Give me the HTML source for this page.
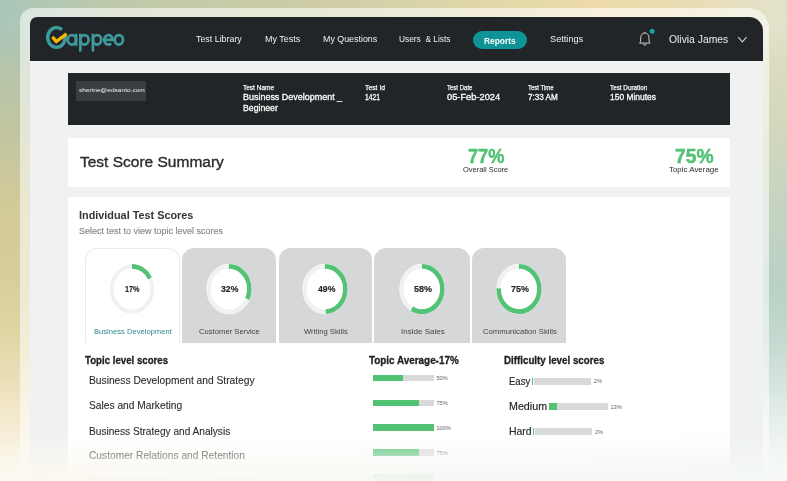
<!DOCTYPE html>
<html><head><meta charset="utf-8">
<style>
html,body{margin:0;padding:0;}
body{width:787px;height:481px;overflow:hidden;position:relative;font-family:"Liberation Sans",sans-serif;
background:#d6d2aa;}
.abs{position:absolute;}
.t{position:absolute;white-space:nowrap;line-height:1;transform-origin:0 0;}
#bgT{position:absolute;left:0;top:0;width:787px;height:60px;
background:linear-gradient(90deg,#a9c6b9 0px,#bec9aa 110px,#cccca6 300px,#d6d2a8 400px,#e2d8a9 500px,#eedcaa 600px,#e9ddb6 700px,#e2e2cc 787px);
-webkit-mask-image:linear-gradient(180deg,#000 0px,#000 20px,transparent 60px);mask-image:linear-gradient(180deg,#000 0px,#000 20px,transparent 60px);}
#bgL{position:absolute;left:0;top:0;width:40px;height:481px;
background:linear-gradient(180deg,#a9c5b8 0px,#aec5b2 30px,#b4c5ab 60px,#c1c5a0 130px,#d1ca99 200px,#d8cd9c 280px,#e0d4a4 330px,#ecdfb8 380px,#f5ecd4 430px,#fbf7ec 481px);}
#bgR{position:absolute;left:750px;top:0;width:37px;height:481px;
background:linear-gradient(180deg,#e4e3cc 0px,#dcdcc0 60px,#d4d8bc 120px,#c6d4c0 200px,#b9d1c6 290px,#c4d9cf 340px,#d4e3dc 380px,#e6efea 420px,#f2f6f3 455px,#f8faf8 481px);}
#frame{position:absolute;left:20px;top:8px;width:748.5px;height:520px;border-radius:13px 20px 0 0;background:rgba(255,255,255,0.56);}
#screen{position:absolute;left:30px;top:16.5px;width:733.2px;height:520px;border-radius:7px 14px 0 0;background:#f0f2f2;overflow:hidden;}
#nav{position:absolute;left:30px;top:16.5px;width:733.2px;height:44.5px;border-radius:7px 14px 0 0;background:#222527;}
#info{position:absolute;left:68px;top:73.3px;width:661.5px;height:51.5px;background:#222527;}
#email{position:absolute;left:75.9px;top:81px;width:70.5px;height:20.3px;background:#3a3d3f;}
#card1{position:absolute;left:67.6px;top:137.5px;width:662px;height:49.8px;background:#ffffff;}
#card2{position:absolute;left:68px;top:196.9px;width:661.6px;height:300px;background:#ffffff;}
.tab{position:absolute;top:248px;height:94.6px;border-radius:12px 12px 0 0;background:#d5d7d8;box-sizing:border-box;}
.tab.on{background:#fff;border:1px solid #e9eaea;border-bottom:none;}
.bar{position:absolute;background:#d9d9d9;}
.bar i{position:absolute;left:0;top:0;bottom:0;background:#52c275;}
#fade{position:absolute;left:0;top:0;width:787px;height:481px;
background:linear-gradient(90deg,#fbf8ef 0px,#faf9f5 250px,#f6f8f6 550px,#f4f7f5 787px);
-webkit-mask-image:linear-gradient(180deg, rgba(0,0,0,0) 0px, rgba(0,0,0,0) 432px, rgba(0,0,0,0.2) 443px, rgba(0,0,0,0.45) 453px, rgba(0,0,0,0.7) 463px, rgba(0,0,0,0.92) 474px, rgba(0,0,0,0.97) 481px);mask-image:linear-gradient(180deg, rgba(0,0,0,0) 0px, rgba(0,0,0,0) 432px, rgba(0,0,0,0.2) 443px, rgba(0,0,0,0.45) 453px, rgba(0,0,0,0.7) 463px, rgba(0,0,0,0.92) 474px, rgba(0,0,0,0.97) 481px);}
</style></head><body>
<div id="bgL"></div><div id="bgR"></div><div id="bgT"></div>
<div id="frame"></div>
<div id="screen"></div>
<div id="nav"></div>
<div id="info"></div>
<div id="email"></div>
<div id="card1"></div>
<div id="card2"></div>
<div class="tab on" style="left:85.1px;width:94.5px"></div><div class="tab" style="left:181.7px;width:94.7px"></div><div class="tab" style="left:278.5px;width:93.9px"></div><div class="tab" style="left:374.4px;width:95.3px"></div><div class="tab" style="left:471.7px;width:94.5px"></div>
<svg class="abs" style="left:105.35px;top:262.3px" width="54" height="54" viewBox="-27 -27 54 54">
<g transform="scale(1,1.1133)"><circle r="22.6" fill="#ffffff"/><circle r="20.3" fill="none" stroke="#f1f1f1" stroke-width="3.8"/>
<circle r="20.3" fill="none" stroke="#52c275" stroke-width="4.4" stroke-dasharray="21.68 999" transform="rotate(-90)"/></g></svg><svg class="abs" style="left:202.04999999999998px;top:262.3px" width="54" height="54" viewBox="-27 -27 54 54">
<g transform="scale(1,1.1133)"><circle r="22.6" fill="#ffffff"/><circle r="20.3" fill="none" stroke="#f1f1f1" stroke-width="3.8"/>
<circle r="20.3" fill="none" stroke="#52c275" stroke-width="4.4" stroke-dasharray="40.82 999" transform="rotate(-90)"/></g></svg><svg class="abs" style="left:298.45px;top:262.3px" width="54" height="54" viewBox="-27 -27 54 54">
<g transform="scale(1,1.1133)"><circle r="22.6" fill="#ffffff"/><circle r="20.3" fill="none" stroke="#f1f1f1" stroke-width="3.8"/>
<circle r="20.3" fill="none" stroke="#52c275" stroke-width="4.4" stroke-dasharray="62.50 999" transform="rotate(-90)"/></g></svg><svg class="abs" style="left:395.04999999999995px;top:262.3px" width="54" height="54" viewBox="-27 -27 54 54">
<g transform="scale(1,1.1133)"><circle r="22.6" fill="#ffffff"/><circle r="20.3" fill="none" stroke="#f1f1f1" stroke-width="3.8"/>
<circle r="20.3" fill="none" stroke="#52c275" stroke-width="4.4" stroke-dasharray="73.98 999" transform="rotate(-90)"/></g></svg><svg class="abs" style="left:491.95000000000005px;top:262.3px" width="54" height="54" viewBox="-27 -27 54 54">
<g transform="scale(1,1.1133)"><circle r="22.6" fill="#ffffff"/><circle r="20.3" fill="none" stroke="#f1f1f1" stroke-width="3.8"/>
<circle r="20.3" fill="none" stroke="#52c275" stroke-width="4.4" stroke-dasharray="95.66 999" transform="rotate(-90)"/></g></svg>
<!-- nav pill -->
<div class="abs" style="left:473.1px;top:30.6px;width:54.1px;height:18.5px;border-radius:9.25px;background:#0e9397"></div>
<!-- logo -->
<svg class="abs" style="left:40px;top:20px" width="90" height="36" viewBox="0 0 90 36">
 <path d="M25.16 16.03 A8.75 9.85 0 1 1 21.89 9.64" fill="none" stroke="#3d9a9c" stroke-width="3.5"/>
 <path d="M12.4 16.9 L16.3 21.6 L26.6 13.9" fill="none" stroke="#f5b800" stroke-width="3.3" stroke-linejoin="miter" stroke-linecap="butt"/>
 <g fill="none" stroke="#3d9a9c" stroke-width="2.7"><ellipse cx="31.9" cy="19.8" rx="4.15" ry="4.75"/><line x1="36.05" y1="13.7" x2="36.05" y2="25.9"/><line x1="40.3" y1="13.7" x2="40.3" y2="31.6"/><ellipse cx="44.449999999999996" cy="19.8" rx="4.15" ry="4.75"/><line x1="52.9" y1="13.7" x2="52.9" y2="31.6"/><ellipse cx="57.05" cy="19.8" rx="4.15" ry="4.75"/><path d="M64.25 19.8 L72.55 19.8 A4.15 4.75 0 1 0 71.07 23.44"/><ellipse cx="78.9" cy="19.8" rx="4.15" ry="4.75"/></g>
</svg>
<!-- bell -->
<svg class="abs" style="left:636px;top:28px" width="22" height="22" viewBox="0 0 22 22">
 <path d="M8.85 5 C6.4 5 4.8 7 4.8 9.4 L4.6 13.3 L3.6 15.1 L14.1 15.1 L13.1 13.3 L12.9 9.4 C12.9 7 11.3 5 8.85 5 Z" fill="none" stroke="#d0d0d0" stroke-width="1" stroke-linejoin="round"/>
 <path d="M7.5 16.2 A1.4 1.4 0 0 0 10.2 16.2" fill="none" stroke="#d0d0d0" stroke-width="1"/>
 <line x1="8.85" y1="3.8" x2="8.85" y2="5" stroke="#d0d0d0" stroke-width="1"/>
 <circle cx="16.2" cy="3.2" r="2.5" fill="#12a2a7"/>
</svg>
<!-- chevron -->
<svg class="abs" style="left:736px;top:35px" width="12" height="9" viewBox="0 0 12 9">
 <path d="M2.2 2.2 L6.35 6.9 L10.5 2.2" fill="none" stroke="#cfcfcf" stroke-width="1.1"/>
</svg>
<!-- topic bars -->
<div class="bar" style="left:372.9px;top:374.5px;width:60.9px;height:6.5px"><i style="width:50%"></i></div><div class="bar" style="left:372.9px;top:399.5px;width:60.9px;height:6.5px"><i style="width:75%"></i></div><div class="bar" style="left:372.9px;top:424.4px;width:60.9px;height:6.5px"><i style="width:100%"></i></div><div class="bar" style="left:372.9px;top:449.4px;width:60.9px;height:6.5px"><i style="width:75%"></i></div><div class="bar" style="left:372.9px;top:474.4px;width:60.9px;height:6.5px"><i style="width:100%"></i></div>
<div class="bar" style="left:532px;top:378.3px;width:59.1px;height:6.9px;border-left:1.3px solid #52c275;box-sizing:border-box;background-clip:content-box;padding-left:0.9px"></div>
<div class="bar" style="left:548.7px;top:403.2px;width:59.3px;height:7.2px"><i style="width:8.1px"></i></div>
<div class="bar" style="left:533px;top:428.2px;width:59.4px;height:7.2px;border-left:1.3px solid #52c275;box-sizing:border-box;background-clip:content-box;padding-left:0.9px"></div>
<div id="nav1" class="t" style="left:196.40px;top:33.50px;font-size:9.8px;font-weight:400;color:#f0f0f0;transform:scaleX(0.9041);">Test Library</div>
<div id="nav2" class="t" style="left:265.00px;top:33.50px;font-size:9.8px;font-weight:400;color:#f0f0f0;transform:scaleX(0.9146);">My Tests</div>
<div id="nav3" class="t" style="left:322.70px;top:33.50px;font-size:9.8px;font-weight:400;color:#f0f0f0;transform:scaleX(0.9045);">My Questions</div>
<div id="nav4" class="t" style="left:399.40px;top:33.50px;font-size:9.8px;font-weight:400;color:#f0f0f0;transform:scaleX(0.8510);">Users &nbsp;&amp; Lists</div>
<div id="nav5" class="t" style="left:484.10px;top:36.77px;font-size:8.3px;font-weight:700;color:#ffffff;transform:scaleX(1.0121);">Reports</div>
<div id="nav6" class="t" style="left:549.60px;top:33.50px;font-size:9.8px;font-weight:400;color:#f0f0f0;transform:scaleX(0.9382);">Settings</div>
<div id="user" class="t" style="left:668.90px;top:34.00px;font-size:11.1px;font-weight:400;color:#ededed;transform:scaleX(0.9328);">Olivia James</div>
<div id="emailt" class="t" style="left:78.90px;top:88.09px;font-size:5.8px;font-weight:400;color:#f0f0f0;transform:scaleX(1.1336);">sherine@edsanto.com</div>
<div id="l1" class="t" style="left:242.50px;top:85.08px;font-size:6.4px;font-weight:400;color:#f0f0f0;transform:scaleX(1.0165);-webkit-text-stroke:0.25px #f0f0f0;">Test Name</div>
<div id="v1a" class="t" style="left:242.50px;top:93.49px;font-size:8.4px;font-weight:400;color:#fafafa;transform:scaleX(1.0697);-webkit-text-stroke:0.3px #fafafa;">Business Development _</div>
<div id="v1b" class="t" style="left:242.50px;top:103.79px;font-size:8.4px;font-weight:400;color:#fafafa;transform:scaleX(1.0400);-webkit-text-stroke:0.3px #fafafa;">Begineer</div>
<div id="l2" class="t" style="left:365.10px;top:85.08px;font-size:6.4px;font-weight:400;color:#f0f0f0;transform:scaleX(1.0666);-webkit-text-stroke:0.25px #f0f0f0;">Test Id</div>
<div id="v2" class="t" style="left:365.10px;top:93.49px;font-size:8.4px;font-weight:400;color:#fafafa;transform:scaleX(0.8090);-webkit-text-stroke:0.3px #fafafa;">1421</div>
<div id="l3" class="t" style="left:446.70px;top:85.08px;font-size:6.4px;font-weight:400;color:#f0f0f0;transform:scaleX(0.9408);-webkit-text-stroke:0.25px #f0f0f0;">Test Date</div>
<div id="v3" class="t" style="left:446.70px;top:93.49px;font-size:8.4px;font-weight:400;color:#fafafa;transform:scaleX(1.1076);-webkit-text-stroke:0.3px #fafafa;">05-Feb-2024</div>
<div id="l4" class="t" style="left:528.40px;top:85.08px;font-size:6.4px;font-weight:400;color:#f0f0f0;transform:scaleX(0.9325);-webkit-text-stroke:0.25px #f0f0f0;">Test Time</div>
<div id="v4" class="t" style="left:528.40px;top:93.49px;font-size:8.4px;font-weight:400;color:#fafafa;transform:scaleX(0.9701);-webkit-text-stroke:0.3px #fafafa;">7:33 AM</div>
<div id="l5" class="t" style="left:609.90px;top:85.08px;font-size:6.4px;font-weight:400;color:#f0f0f0;transform:scaleX(0.9888);-webkit-text-stroke:0.25px #f0f0f0;">Test Duration</div>
<div id="v5" class="t" style="left:609.90px;top:93.49px;font-size:8.4px;font-weight:400;color:#fafafa;transform:scaleX(1.0070);-webkit-text-stroke:0.3px #fafafa;">150 Minutes</div>
<div id="tss" class="t" style="left:79.80px;top:154.54px;font-size:14.9px;font-weight:400;color:#2a2c2e;transform:scaleX(1.0409);-webkit-text-stroke:0.35px #2a2c2e;">Test Score Summary</div>
<div id="p77" class="t" style="left:467.90px;top:145.32px;font-size:21px;font-weight:700;color:#52c275;transform:scaleX(0.8665);-webkit-text-stroke:0.5px #52c275;">77%</div>
<div id="os" class="t" style="left:463.00px;top:165.53px;font-size:8px;font-weight:400;color:#2a2a2a;transform:scaleX(0.9335);">Overall Score</div>
<div id="p75" class="t" style="left:674.70px;top:145.32px;font-size:21px;font-weight:700;color:#52c275;transform:scaleX(0.9166);-webkit-text-stroke:0.5px #52c275;">75%</div>
<div id="ta" class="t" style="left:669.10px;top:165.53px;font-size:8px;font-weight:400;color:#2a2a2a;transform:scaleX(0.9897);">Topic Average</div>
<div id="its" class="t" style="left:79.40px;top:209.20px;font-size:11.7px;font-weight:700;color:#333536;transform:scaleX(0.9286);">Individual Test Scores</div>
<div id="sel" class="t" style="left:79.40px;top:226.57px;font-size:8.9px;font-weight:400;color:#888888;transform:scaleX(1.0129);-webkit-text-stroke:0.15px #888;">Select test to view topic level scores</div>
<div id="tl1" class="t" style="left:93.80px;top:328.79px;font-size:7.1px;font-weight:400;color:#2b8a8e;transform:scaleX(1.0716);">Business Development</div>
<div id="tl2" class="t" style="left:199.00px;top:328.79px;font-size:7.1px;font-weight:400;color:#444;transform:scaleX(1.0797);">Customer Service</div>
<div id="tl3" class="t" style="left:303.80px;top:328.79px;font-size:7.1px;font-weight:400;color:#444;transform:scaleX(1.0815);">Writing Skills</div>
<div id="tl4" class="t" style="left:400.50px;top:328.79px;font-size:7.1px;font-weight:400;color:#444;transform:scaleX(1.1332);">Inside Sales</div>
<div id="tl5" class="t" style="left:482.50px;top:328.79px;font-size:7.1px;font-weight:400;color:#444;transform:scaleX(1.0879);">Communication Skills</div>
<div id="r1" class="t" style="left:125.40px;top:284.47px;font-size:9.6px;font-weight:700;color:#2a2a2a;transform:scaleX(0.7564);-webkit-text-stroke:0.2px #2a2a2a;">17%</div>
<div id="r2" class="t" style="left:221.00px;top:284.47px;font-size:9.6px;font-weight:700;color:#2a2a2a;transform:scaleX(0.9045);-webkit-text-stroke:0.2px #2a2a2a;">32%</div>
<div id="r3" class="t" style="left:317.50px;top:284.47px;font-size:9.6px;font-weight:700;color:#2a2a2a;transform:scaleX(0.9045);-webkit-text-stroke:0.2px #2a2a2a;">49%</div>
<div id="r4" class="t" style="left:413.90px;top:284.47px;font-size:9.6px;font-weight:700;color:#2a2a2a;transform:scaleX(0.9373);-webkit-text-stroke:0.2px #2a2a2a;">58%</div>
<div id="r5" class="t" style="left:510.50px;top:284.47px;font-size:9.6px;font-weight:700;color:#2a2a2a;transform:scaleX(0.9319);-webkit-text-stroke:0.2px #2a2a2a;">75%</div>
<div id="tls" class="t" style="left:84.90px;top:354.81px;font-size:10.5px;font-weight:700;color:#222;transform:scaleX(0.9202);-webkit-text-stroke:0.3px #222;">Topic level scores</div>
<div id="tr1" class="t" style="left:89.10px;top:376.38px;font-size:10.3px;font-weight:400;color:#2a2a2a;transform:scaleX(0.9944);-webkit-text-stroke:0.1px #2a2a2a;">Business Development and Strategy</div>
<div id="tr2" class="t" style="left:89.10px;top:401.48px;font-size:10.3px;font-weight:400;color:#2a2a2a;transform:scaleX(0.9920);-webkit-text-stroke:0.1px #2a2a2a;">Sales and Marketing</div>
<div id="tr3" class="t" style="left:89.10px;top:426.58px;font-size:10.3px;font-weight:400;color:#2a2a2a;transform:scaleX(0.9829);-webkit-text-stroke:0.1px #2a2a2a;">Business Strategy and Analysis</div>
<div id="tr4" class="t" style="left:89.10px;top:451.48px;font-size:10.3px;font-weight:400;color:#2a2a2a;transform:scaleX(0.9906);-webkit-text-stroke:0.1px #2a2a2a;">Customer Relations and Retention</div>
<div id="tr5" class="t" style="left:89.10px;top:476.48px;font-size:10.3px;font-weight:400;color:#999;transform:scaleX(0.9130);">Business Development and Partnerships</div>
<div id="tavg" class="t" style="left:369.40px;top:354.81px;font-size:10.5px;font-weight:700;color:#222;transform:scaleX(0.9410);-webkit-text-stroke:0.3px #222;">Topic Average-17%</div>
<div id="dls" class="t" style="left:504.40px;top:354.81px;font-size:10.5px;font-weight:700;color:#222;transform:scaleX(0.9297);-webkit-text-stroke:0.3px #222;">Difficulty level scores</div>
<div id="de" class="t" style="left:508.50px;top:376.67px;font-size:10.2px;font-weight:400;color:#222;transform:scaleX(0.9336);-webkit-text-stroke:0.15px #222;">Easy</div>
<div id="dm" class="t" style="left:508.50px;top:401.87px;font-size:10.2px;font-weight:400;color:#222;transform:scaleX(1.0507);-webkit-text-stroke:0.15px #222;">Medium</div>
<div id="dh" class="t" style="left:508.50px;top:426.57px;font-size:10.2px;font-weight:400;color:#222;transform:scaleX(1.0202);-webkit-text-stroke:0.15px #222;">Hard</div>
<div class="t" style="left:436.5px;top:376.06px;font-size:5.6px;color:#666">50%</div>
<div class="t" style="left:436.5px;top:401.06px;font-size:5.6px;color:#666">75%</div>
<div class="t" style="left:436.5px;top:426.06px;font-size:5.6px;color:#666">100%</div>
<div class="t" style="left:436.5px;top:451.06px;font-size:5.6px;color:#666">75%</div>
<div class="t" style="left:593.8px;top:379.26px;font-size:5.6px;color:#666">2%</div>
<div class="t" style="left:610.5px;top:404.56px;font-size:5.6px;color:#666">13%</div>
<div class="t" style="left:594.9px;top:429.56px;font-size:5.6px;color:#666">2%</div>
<div id="fade"></div>
</body></html>
